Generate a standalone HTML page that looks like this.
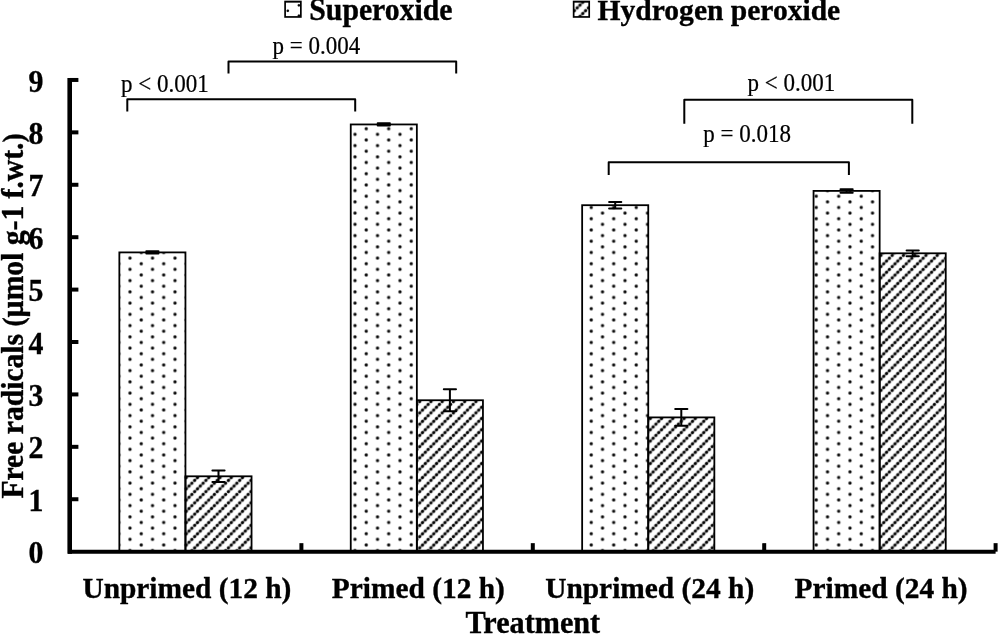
<!DOCTYPE html>
<html><head><meta charset="utf-8"><title>Chart</title>
<style>
html,body{margin:0;padding:0;background:#fff;}
body{width:998px;height:634px;overflow:hidden;}
svg{display:block;will-change:transform;}
text{font-family:"Liberation Serif",serif;fill:#000;}
</style></head><body>
<svg width="998" height="634" viewBox="0 0 998 634">
<defs>
<radialGradient id="bump"><stop offset="0" stop-color="#000" stop-opacity="1"/><stop offset="0.36" stop-color="#000" stop-opacity="0.96"/><stop offset="0.63" stop-color="#000" stop-opacity="0.5"/><stop offset="0.85" stop-color="#000" stop-opacity="0.1"/><stop offset="1" stop-color="#000" stop-opacity="0"/></radialGradient>
<pattern id="dots" patternUnits="userSpaceOnUse" x="14.7" y="7.80" width="22.5" height="11.25">
<circle cx="2.8" cy="2.8" r="2.45" fill="url(#bump)"/>
<circle cx="14.05" cy="8.425" r="2.45" fill="url(#bump)"/>
</pattern>
<pattern id="hatch" patternUnits="userSpaceOnUse" x="2.02" y="-1.95" width="11.250" height="11.250">
<path d="M-2 13.250L13.250 -2" stroke="#000" stroke-opacity="0.4" stroke-width="1.8" fill="none"/>
<circle cx="-1.406" cy="1.406" r="2.45" fill="url(#bump)"/>
<circle cx="-1.406" cy="12.656" r="2.45" fill="url(#bump)"/>
<circle cx="1.406" cy="-1.406" r="2.45" fill="url(#bump)"/>
<circle cx="1.406" cy="9.844" r="2.45" fill="url(#bump)"/>
<circle cx="4.219" cy="7.031" r="2.45" fill="url(#bump)"/>
<circle cx="7.031" cy="4.219" r="2.45" fill="url(#bump)"/>
<circle cx="9.844" cy="1.406" r="2.45" fill="url(#bump)"/>
<circle cx="9.844" cy="12.656" r="2.45" fill="url(#bump)"/>
<circle cx="12.656" cy="-1.406" r="2.45" fill="url(#bump)"/>
<circle cx="12.656" cy="9.844" r="2.45" fill="url(#bump)"/>
</pattern>
</defs>
<rect width="998" height="634" fill="#fff"/>

<g>
<rect x="119.35" y="252.40" width="66.10" height="299.25" fill="url(#dots)"/>
<rect x="185.45" y="476.30" width="66.10" height="75.35" fill="url(#hatch)"/>
<rect x="350.75" y="124.45" width="66.10" height="427.20" fill="url(#dots)"/>
<rect x="416.85" y="400.25" width="66.10" height="151.40" fill="url(#hatch)"/>
<rect x="582.15" y="205.20" width="66.10" height="346.45" fill="url(#dots)"/>
<rect x="648.25" y="417.40" width="66.10" height="134.25" fill="url(#hatch)"/>
<rect x="813.55" y="190.90" width="66.10" height="360.75" fill="url(#dots)"/>
<rect x="879.65" y="253.30" width="66.10" height="298.35" fill="url(#hatch)"/>
</g>
<rect x="119.35" y="252.40" width="66.10" height="299.25" fill="none" stroke="#000" stroke-width="1.8"/>
<rect x="185.45" y="476.30" width="66.10" height="75.35" fill="none" stroke="#000" stroke-width="1.8"/>
<rect x="350.75" y="124.45" width="66.10" height="427.20" fill="none" stroke="#000" stroke-width="1.8"/>
<rect x="416.85" y="400.25" width="66.10" height="151.40" fill="none" stroke="#000" stroke-width="1.8"/>
<rect x="582.15" y="205.20" width="66.10" height="346.45" fill="none" stroke="#000" stroke-width="1.8"/>
<rect x="648.25" y="417.40" width="66.10" height="134.25" fill="none" stroke="#000" stroke-width="1.8"/>
<rect x="813.55" y="190.90" width="66.10" height="360.75" fill="none" stroke="#000" stroke-width="1.8"/>
<rect x="879.65" y="253.30" width="66.10" height="298.35" fill="none" stroke="#000" stroke-width="1.8"/>
<path d="M152.40 251.20V253.60M146.30 251.20h12.2M146.30 253.60h12.2" fill="none" stroke="#000" stroke-width="2" stroke-linecap="round"/>
<path d="M218.50 470.55V482.05M212.40 470.55h12.2M212.40 482.05h12.2" fill="none" stroke="#000" stroke-width="2" stroke-linecap="round"/>
<path d="M383.80 123.35V125.55M377.70 123.35h12.2M377.70 125.55h12.2" fill="none" stroke="#000" stroke-width="2" stroke-linecap="round"/>
<path d="M449.90 389.30V411.20M443.80 389.30h12.2M443.80 411.20h12.2" fill="none" stroke="#000" stroke-width="2" stroke-linecap="round"/>
<path d="M615.20 201.90V208.50M609.10 201.90h12.2M609.10 208.50h12.2" fill="none" stroke="#000" stroke-width="2" stroke-linecap="round"/>
<path d="M681.30 409.00V425.80M675.20 409.00h12.2M675.20 425.80h12.2" fill="none" stroke="#000" stroke-width="2" stroke-linecap="round"/>
<path d="M846.60 189.15V192.65M840.50 189.15h12.2M840.50 192.65h12.2" fill="none" stroke="#000" stroke-width="2" stroke-linecap="round"/>
<path d="M912.70 250.40V256.20M906.60 250.40h12.2M906.60 256.20h12.2" fill="none" stroke="#000" stroke-width="2" stroke-linecap="round"/>
<g fill="none" stroke="#000" stroke-width="4">
<path d="M70.00 77.96V551.65H995.60"/>
<path d="M69.70 77.96V553.65" stroke-width="4.6"/>
<path d="M70.00 499.24h8.4"/>
<path d="M70.00 446.83h8.4"/>
<path d="M70.00 394.42h8.4"/>
<path d="M70.00 342.01h8.4"/>
<path d="M70.00 289.60h8.4"/>
<path d="M70.00 237.19h8.4"/>
<path d="M70.00 184.78h8.4"/>
<path d="M70.00 132.37h8.4"/>
<path d="M70.00 79.96h8.4"/>
<path d="M301.40 551.65v-8.5"/>
<path d="M532.80 551.65v-8.5"/>
<path d="M764.20 551.65v-8.5"/>
<path d="M995.60 551.65v-8.5"/>
</g>
<text transform="translate(43.50 563.25) scale(1 1.030)" font-size="29.80" font-weight="bold" text-anchor="end" stroke="#000" stroke-width="0.35">0</text>
<text transform="translate(43.50 510.84) scale(1 1.030)" font-size="29.80" font-weight="bold" text-anchor="end" stroke="#000" stroke-width="0.35">1</text>
<text transform="translate(43.50 458.43) scale(1 1.030)" font-size="29.80" font-weight="bold" text-anchor="end" stroke="#000" stroke-width="0.35">2</text>
<text transform="translate(43.50 406.02) scale(1 1.030)" font-size="29.80" font-weight="bold" text-anchor="end" stroke="#000" stroke-width="0.35">3</text>
<text transform="translate(43.50 353.61) scale(1 1.030)" font-size="29.80" font-weight="bold" text-anchor="end" stroke="#000" stroke-width="0.35">4</text>
<text transform="translate(43.50 301.20) scale(1 1.030)" font-size="29.80" font-weight="bold" text-anchor="end" stroke="#000" stroke-width="0.35">5</text>
<text transform="translate(43.50 248.79) scale(1 1.030)" font-size="29.80" font-weight="bold" text-anchor="end" stroke="#000" stroke-width="0.35">6</text>
<text transform="translate(43.50 196.38) scale(1 1.030)" font-size="29.80" font-weight="bold" text-anchor="end" stroke="#000" stroke-width="0.35">7</text>
<text transform="translate(43.50 143.97) scale(1 1.030)" font-size="29.80" font-weight="bold" text-anchor="end" stroke="#000" stroke-width="0.35">8</text>
<text transform="translate(43.50 91.56) scale(1 1.030)" font-size="29.80" font-weight="bold" text-anchor="end" stroke="#000" stroke-width="0.35">9</text>
<text transform="translate(186.90 598.30) scale(1 1.030)" font-size="29.40" font-weight="bold" text-anchor="middle" stroke="#000" stroke-width="0.35">Unprimed (12 h)</text>
<text transform="translate(418.30 598.30) scale(1 1.030)" font-size="29.40" font-weight="bold" text-anchor="middle" stroke="#000" stroke-width="0.35">Primed (12 h)</text>
<text transform="translate(649.70 598.30) scale(1 1.030)" font-size="29.40" font-weight="bold" text-anchor="middle" stroke="#000" stroke-width="0.35">Unprimed (24 h)</text>
<text transform="translate(881.10 598.30) scale(1 1.030)" font-size="29.40" font-weight="bold" text-anchor="middle" stroke="#000" stroke-width="0.35">Primed (24 h)</text>
<text transform="translate(532.80 633.00) scale(1 1.020)" font-size="30.20" font-weight="bold" text-anchor="middle" stroke="#000" stroke-width="0.35">Treatment</text>
<text transform="translate(22.70 316.00) rotate(-90) scale(1 1.060)" font-size="29.60" font-weight="bold" text-anchor="middle" stroke="#000" stroke-width="0.35">Free radicals <tspan font-size="27.4">(</tspan>µmol g-1 f.wt.<tspan font-size="27.4">)</tspan></text>
<rect x="284.3" y="0" width="17.4" height="0.9" fill="#a8a8a8"/><rect x="572.8" y="0" width="17.3" height="0.9" fill="#a8a8a8"/>
<rect x="285.1" y="1.8" width="15.75" height="15.15" fill="#fff" stroke="#000" stroke-width="1.7"/>
<g><circle cx="287.8" cy="10.8" r="2" fill="url(#bump)"/><circle cx="298.9" cy="5.3" r="2" fill="url(#bump)"/><circle cx="298.9" cy="15.7" r="2" fill="url(#bump)"/></g>
<text transform="translate(309.30 19.60) scale(1 1.030)" font-size="29.75" font-weight="bold" text-anchor="start" stroke="#000" stroke-width="0.35">Superoxide</text>
<g><rect x="573.65" y="1.8" width="15.55" height="15.15" fill="url(#hatch)"/></g>
<rect x="573.65" y="1.8" width="15.55" height="15.15" fill="none" stroke="#000" stroke-width="1.7"/>
<text transform="translate(597.60 19.60) scale(1 1.030)" font-size="29.55" font-weight="bold" text-anchor="start" stroke="#000" stroke-width="0.35">Hydrogen peroxide</text>
<path d="M127.30 111.50V99.30H355.20V111.50" fill="none" stroke="#000" stroke-width="2" stroke-linejoin="round"/>
<path d="M228.50 73.50V61.60H456.20V73.50" fill="none" stroke="#000" stroke-width="2" stroke-linejoin="round"/>
<path d="M684.30 123.80V99.70H912.30V123.80" fill="none" stroke="#000" stroke-width="2" stroke-linejoin="round"/>
<path d="M608.70 175.00V162.30H848.90V175.00" fill="none" stroke="#000" stroke-width="2" stroke-linejoin="round"/>
<text transform="translate(121.10 91.50) scale(1 1.050)" font-size="23.00" font-weight="normal" text-anchor="start" stroke="#000" stroke-width="0.2">p &lt; 0.001</text>
<text transform="translate(272.60 53.70) scale(1 1.050)" font-size="23.00" font-weight="normal" text-anchor="start" stroke="#000" stroke-width="0.2">p = 0.004</text>
<text transform="translate(747.60 91.30) scale(1 1.050)" font-size="23.00" font-weight="normal" text-anchor="start" stroke="#000" stroke-width="0.2">p &lt; 0.001</text>
<text transform="translate(703.30 141.70) scale(1 1.050)" font-size="23.00" font-weight="normal" text-anchor="start" stroke="#000" stroke-width="0.2">p = 0.018</text>
</svg></body></html>
